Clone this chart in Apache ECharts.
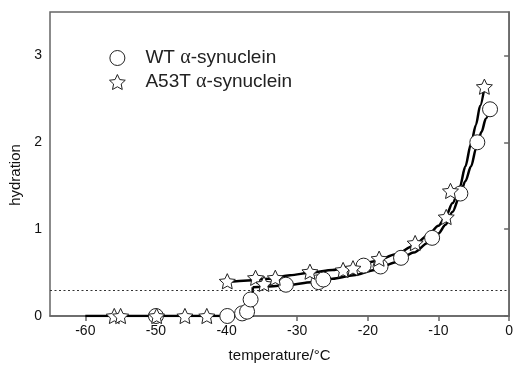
<!DOCTYPE html>
<html>
<head>
<meta charset="utf-8">
<script src="https://cdn.jsdelivr.net/npm/echarts@6/dist/echarts.min.js"></script>
<style>
  html, body { margin: 0; padding: 0; background: #fff; }
  #chart { width: 516px; height: 368px; }
</style>
</head>
<body>
<div id="chart"></div>
<script>
// measured points (temperature °C, hydration)
const wtTemp = [-50, -39.9, -37.8, -37.1, -36.6, -31.6, -27.0, -26.3, -20.6, -18.2, -15.3, -10.9, -6.9, -4.5, -2.7];
const wtHydration = [0, 0, 0.03, 0.05, 0.19, 0.36, 0.39, 0.42, 0.58, 0.57, 0.67, 0.90, 1.41, 2.0, 2.38];

const a53tTemp = [-55.9, -55.0, -49.9, -45.9, -42.8, -39.9, -35.9, -34.7, -33.1, -28.2, -23.5, -22.1, -18.4, -13.3, -8.9, -8.3, -3.5];
const a53tHydration = [0, 0, 0, 0, 0, 0.40, 0.44, 0.37, 0.44, 0.51, 0.53, 0.55, 0.66, 0.84, 1.14, 1.44, 2.64];

// fitted curves
const baseTemp = [-60, -36.3, -36.3];
const baseHydration = [0, 0, 0.33];

const wtFitTemp = [-36.3, -34, -31, -28, -25, -22, -19, -16, -13.5, -11.5, -10, -9, -8, -7, -6.2, -5.4, -4.6, -3.9, -3.3, -2.7];
const wtFitHydration = [0.33, 0.34, 0.36, 0.39, 0.43, 0.47, 0.53, 0.62, 0.73, 0.84, 0.95, 1.05, 1.2, 1.38, 1.55, 1.72, 1.95, 2.12, 2.27, 2.4];

const a53tFitTemp = [-40, -37, -34, -31, -28, -25, -22, -19, -16, -13.5, -11.5, -10, -9, -8, -7, -6.2, -5.4, -4.7, -4.1, -3.5];
const a53tFitHydration = [0.39, 0.41, 0.43, 0.47, 0.50, 0.53, 0.57, 0.63, 0.71, 0.81, 0.93, 1.04, 1.14, 1.3, 1.48, 1.72, 1.98, 2.2, 2.42, 2.63];

const hydrationLimit = 0.3;

const xTicks = [-60, -50, -40, -30, -20, -10, 0];
const yTicks = [0, 1, 2, 3];

const zip = (xs, ys) => xs.map((x, i) => [x, ys[i]]);

const STAR = 'path://M10 0 L12.82 6.12 L19.51 6.91 L14.57 11.48 L15.88 18.09 L10 14.8 L4.12 18.09 L5.43 11.48 L0.49 6.91 L7.18 6.12 Z';
const axisColor = '#666';

const chart = echarts.init(document.getElementById('chart'));

const fitLine = (data, smooth) => ({
  type: 'line',
  data,
  showSymbol: false,
  symbol: 'none',
  smooth,
  smoothMonotone: 'x',
  lineStyle: { color: '#000', width: 2.5 },
  silent: true,
  z: 3
});

chart.setOption({
  animation: false,
  backgroundColor: '#fff',
  textStyle: { fontFamily: 'Liberation Sans, Arial, sans-serif' },
  grid: {
    left: 50, right: 1, top: 12, bottom: 49,
    show: true, borderColor: axisColor, borderWidth: 1.5
  },
  legend: {
    orient: 'vertical',
    left: 104,
    top: 43,
    itemWidth: 46,
    itemHeight: 15,
    itemGap: 4,
    selectedMode: false,
    data: [
      { name: 'WT α-synuclein', icon: 'circle' },
      { name: 'A53T α-synuclein', icon: STAR }
    ],
    itemStyle: { color: '#fff', borderColor: '#222', borderWidth: 1 },
    formatter: name => name.replace('α', '{g|α}'),
    textStyle: {
      fontSize: 19,
      color: '#222',
      rich: { g: { fontFamily: 'Liberation Serif', fontSize: 20, color: '#222' } }
    }
  },
  xAxis: {
    type: 'value',
    min: -65,
    max: 0,
    name: 'temperature/°C',
    nameLocation: 'middle',
    nameGap: 32,
    nameTextStyle: { fontSize: 15, color: '#111' },
    splitLine: { show: false },
    axisLine: { onZero: false, lineStyle: { color: axisColor, width: 1.5 } },
    axisTick: { customValues: xTicks, length: 5, lineStyle: { color: axisColor, width: 1.5 } },
    axisLabel: { customValues: xTicks, fontSize: 14, color: '#111', margin: 8 }
  },
  yAxis: {
    type: 'value',
    min: 0,
    max: 3.5,
    name: 'hydration',
    nameLocation: 'middle',
    nameGap: 27,
    nameTextStyle: { fontSize: 15, color: '#111', padding: [0, 22, 0, 0] },
    splitLine: { show: false },
    axisLine: { lineStyle: { color: axisColor, width: 1.5 } },
    axisTick: { customValues: yTicks, length: 5, lineStyle: { color: axisColor, width: 1.5 } },
    axisLabel: { customValues: yTicks, fontSize: 14, color: '#111', margin: 8 }
  },
  series: [
    {
      type: 'line',
      data: [],
      silent: true,
      markLine: {
        silent: true,
        symbol: 'none',
        label: { show: false },
        lineStyle: { color: '#333', width: 1, type: [2, 2.5] },
        data: [{ yAxis: hydrationLimit }]
      }
    },
    fitLine(zip(baseTemp, baseHydration), false),
    fitLine(zip(wtFitTemp, wtFitHydration), 0.3),
    fitLine(zip(a53tFitTemp, a53tFitHydration), 0.3),
    {
      name: 'WT α-synuclein',
      type: 'scatter',
      data: zip(wtTemp, wtHydration),
      symbol: 'circle',
      symbolSize: 15,
      itemStyle: { color: '#fff', borderColor: '#222', borderWidth: 1, opacity: 1 },
      z: 5
    },
    {
      name: 'A53T α-synuclein',
      type: 'scatter',
      data: zip(a53tTemp, a53tHydration),
      symbol: STAR,
      symbolSize: 16,
      symbolKeepAspect: true,
      itemStyle: { color: '#fff', borderColor: '#222', borderWidth: 1, opacity: 1 },
      z: 6
    }
  ]
});
</script>
</body>
</html>
